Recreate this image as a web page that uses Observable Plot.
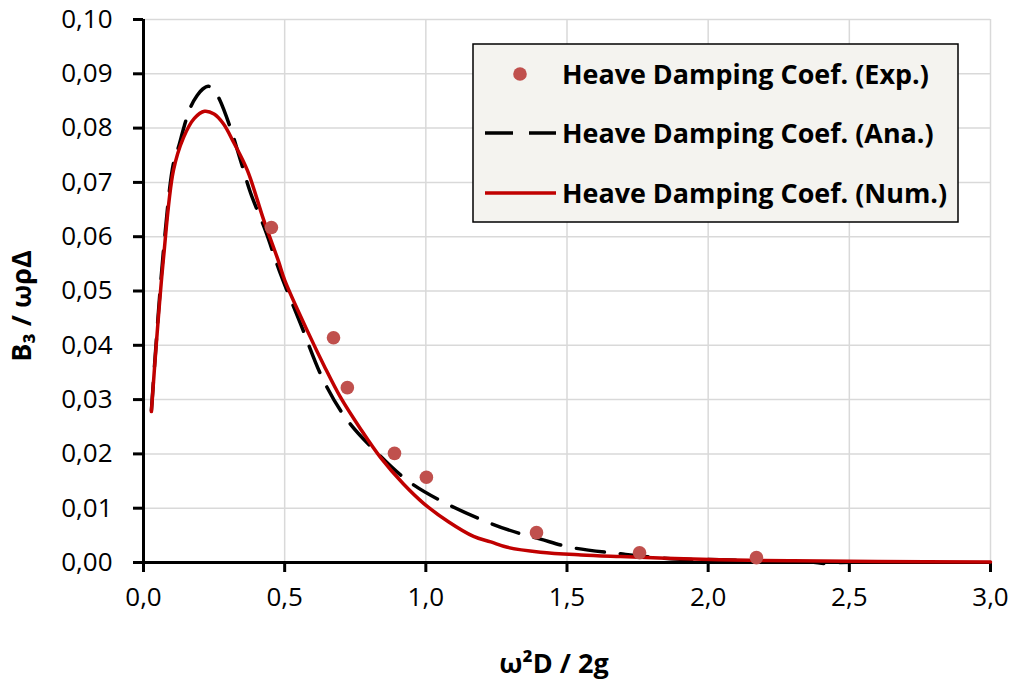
<!DOCTYPE html>
<html><head><meta charset="utf-8">
<script src="https://cdn.jsdelivr.net/npm/d3@7"></script>
<script src="https://cdn.jsdelivr.net/npm/@observablehq/plot@0.6"></script>
<style>body{margin:0;background:#fff;}</style>
</head><body><div id="chart"></div>
<script>
// Experimental points
const expX = [0.453, 0.673, 0.722, 0.889, 1.002, 1.392, 1.757, 2.171];
const expY = [0.0617, 0.0414, 0.0322, 0.0201, 0.0157, 0.0055, 0.0018, 0.0009];
// Analytical curve
const anaX = [0.028, 0.07, 0.106, 0.124, 0.145, 0.166, 0.19, 0.21, 0.23, 0.25, 0.269, 0.308, 0.344, 0.379, 0.432, 0.485, 0.556, 0.638, 0.722, 0.829, 0.935, 1.052, 1.229, 1.335, 1.406, 1.512, 1.69, 1.866, 2.04, 2.22, 2.36, 2.42, 2.47, 2.6, 2.77];
const anaY = [0.028, 0.057, 0.0735, 0.0765, 0.0805, 0.0838, 0.086, 0.0872, 0.0877, 0.087, 0.0853, 0.080, 0.074, 0.0681, 0.0611, 0.0532, 0.044, 0.0335, 0.0262, 0.0201, 0.0151, 0.0114, 0.0072, 0.0053, 0.0043, 0.0028, 0.0016, 0.0007, 0.0005, 0.0003, 0.0001, -0.0002, 0.0000, 0.0001, 0.0001];
// Numerical curve
const numX = [0.028, 0.045, 0.07, 0.106, 0.142, 0.18, 0.216, 0.25, 0.283, 0.32, 0.368, 0.425, 0.478, 0.5, 0.58, 0.64, 0.698, 0.77, 0.84, 0.92, 0.992, 1.08, 1.169, 1.23, 1.289, 1.406, 1.55, 1.69, 1.85, 2.04, 2.3, 2.6, 3.0];
const numY = [0.0278, 0.040, 0.0556, 0.0722, 0.0783, 0.0818, 0.0831, 0.0826, 0.0808, 0.0773, 0.0722, 0.0632, 0.0555, 0.052, 0.0427, 0.0362, 0.0304, 0.0245, 0.0193, 0.0145, 0.0109, 0.0075, 0.0048, 0.0038, 0.0028, 0.0019, 0.0014, 0.0011, 0.0008, 0.0005, 0.0003, 0.0002, 0.0001];

const xTicks = [0, 0.5, 1, 1.5, 2, 2.5, 3];
const yTicks = [0, 0.01, 0.02, 0.03, 0.04, 0.05, 0.06, 0.07, 0.08, 0.09, 0.10];
const seriesNames = ["Heave Damping Coef. (Exp.)", "Heave Damping Coef. (Ana.)", "Heave Damping Coef. (Num.)"];
const xTitle = "ω²D / 2g";
const yTitle = "B₃ / ωρΔ";

const expData = expX.map((x, i) => ({x, y: expY[i]}));
const anaData = anaX.map((x, i) => ({x, y: anaY[i]}));
const numData = numX.map((x, i) => ({x, y: numY[i]}));

const fmt1 = d => d.toFixed(1).replace(".", ",");
const fmt2 = d => d.toFixed(2).replace(".", ",");

const chart = Plot.plot({
  width: 1015, height: 684,
  marginLeft: 143, marginRight: 25, marginTop: 19, marginBottom: 122,
  style: {fontFamily: "'Open Sans', sans-serif", fontSize: "26px", color: "#000", background: "#fff"},
  x: {domain: [0, 3], label: null},
  y: {domain: [0, 0.1], label: null},
  marks: [
    Plot.gridX(xTicks, {stroke: "#d9d9d9", strokeOpacity: 1, strokeWidth: 1.5}),
    Plot.gridY(yTicks, {stroke: "#d9d9d9", strokeOpacity: 1, strokeWidth: 1.5}),
    Plot.axisX(xTicks, {tickFormat: fmt1, tickSize: 10, tickPadding: 15, strokeWidth: 3, fontSize: 26, label: null}),
    Plot.axisY(yTicks, {tickFormat: fmt2, tickSize: 10, tickPadding: 21, strokeWidth: 3, fontSize: 26, label: null}),
    Plot.ruleY([0], {stroke: "#000", strokeWidth: 3}),
    Plot.ruleX([0], {stroke: "#000", strokeWidth: 3}),
    Plot.line(anaData, {x: "x", y: "y", stroke: "#000", strokeWidth: 3.5, strokeDasharray: "28,16", curve: "catmull-rom"}),
    Plot.line(numData, {x: "x", y: "y", stroke: "#c00000", strokeWidth: 3.5, curve: "catmull-rom"}),
    Plot.dot(expData, {x: "x", y: "y", r: 6.8, fill: "#c0504d", stroke: "none"}),
    Plot.text([xTitle], {frameAnchor: "bottom", textAnchor: "middle", dy: 110, dx: -13, fontWeight: "bold", fontSize: 27, fill: "#000"}),
    Plot.text([yTitle], {frameAnchor: "left", textAnchor: "middle", lineAnchor: "middle", rotate: -90, dx: -121, dy: 15, fontWeight: "bold", fontSize: 27, fill: "#000"})
  ]
});
document.getElementById("chart").appendChild(chart);

// Legend
const svg = d3.select(chart);
const lg = svg.append("g").attr("class", "legend").attr("text-anchor", "start");
lg.append("rect").attr("x", 473).attr("y", 44).attr("width", 485).attr("height", 178)
  .attr("fill", "#f4f3ef").attr("stroke", "#000").attr("stroke-width", 1.5);
const rowY = [74, 133, 193];
lg.append("circle").attr("cx", 520).attr("cy", rowY[0]).attr("r", 6.8).attr("fill", "#c0504d");
lg.append("line").attr("x1", 485).attr("x2", 556).attr("y1", rowY[1]).attr("y2", rowY[1])
  .attr("stroke", "#000").attr("stroke-width", 3.5).attr("stroke-dasharray", "28,16");
lg.append("line").attr("x1", 485).attr("x2", 556).attr("y1", rowY[2]).attr("y2", rowY[2])
  .attr("stroke", "#c00000").attr("stroke-width", 3.5);
const texts = seriesNames.map((s, i) => lg.append("text").attr("x", 562).attr("y", rowY[i]).attr("dy", "0.36em")
  .attr("text-anchor", "start")
  .attr("font-family", "'Open Sans', sans-serif").attr("font-weight", "bold").attr("font-size", 24).attr("fill", "#000").text(s));
const w = texts[0].node().getComputedTextLength();
const fs = 24 * 367 / w;
texts.forEach(t => t.attr("font-size", fs));
</script>
</body></html>
